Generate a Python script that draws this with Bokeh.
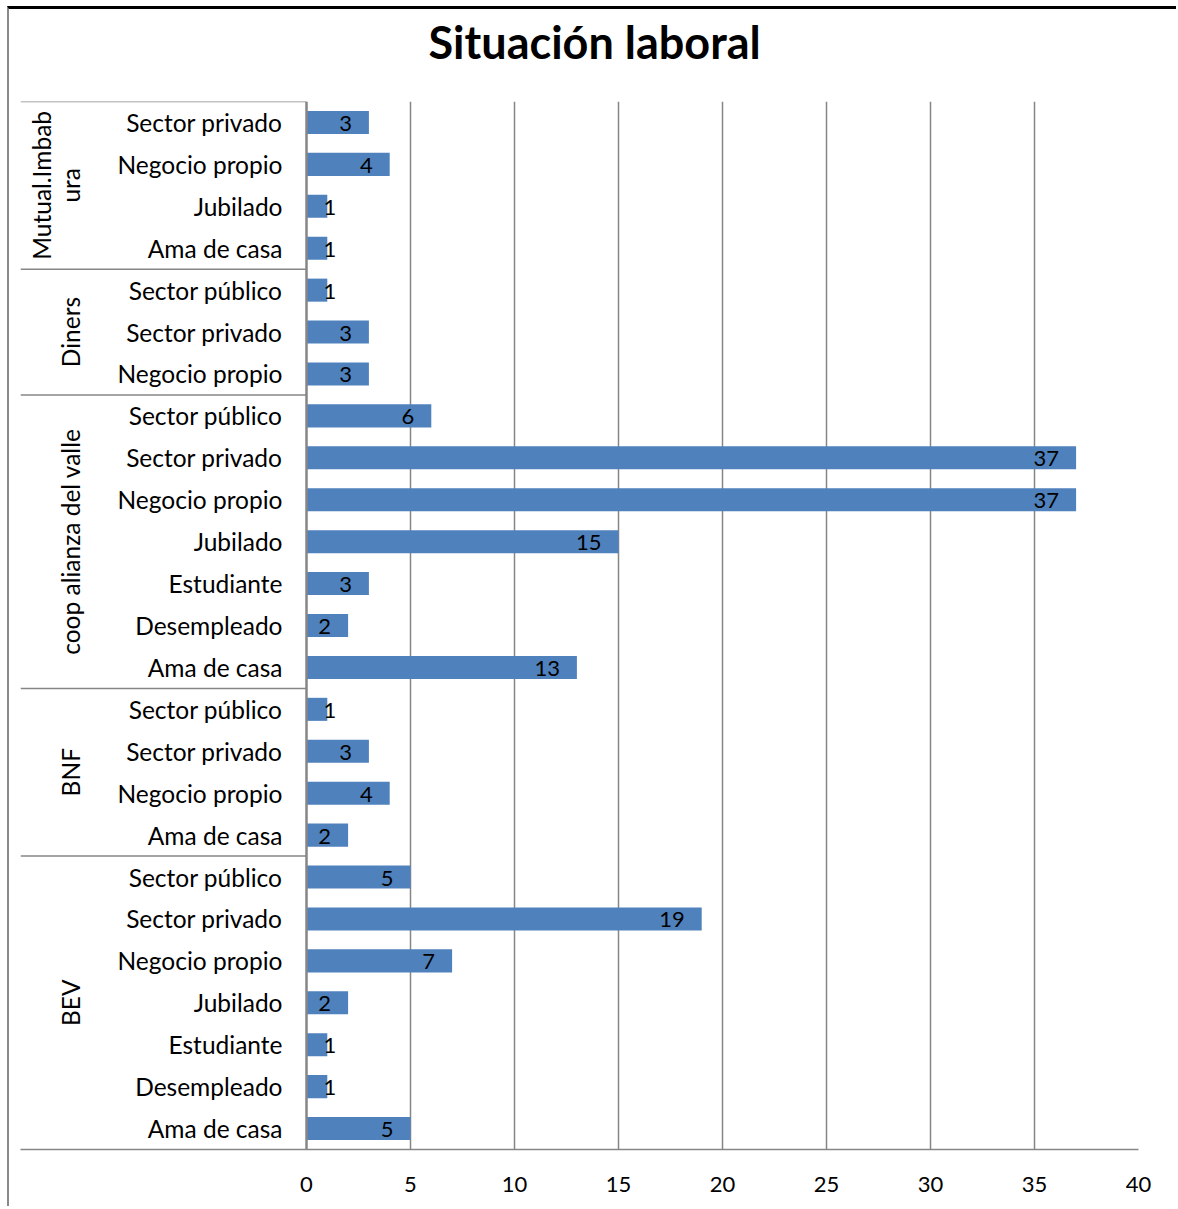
from math import pi
from bokeh.plotting import figure
from bokeh.models import FactorRange, Range1d, FixedTicker, Span, ColumnDataSource, Title
from bokeh.core.properties import value
from bokeh.embed import file_html
from bokeh.resources import INLINE

# ---------------- data (bottom to top, as in the source chart) ----------------
groups = ["BEV", "BNF", "coop alianza del valle", "Diners", "Mutual.Imbabura"]
group_labels = ["BEV", "BNF", "coop alianza del valle", "Diners", "Mutual.Imbab\nura"]

bev_cats = ["Ama de casa", "Desempleado", "Estudiante", "Jubilado", "Negocio propio", "Sector privado", "Sector público"]
bev_vals = [5, 1, 1, 2, 7, 19, 5]
bnf_cats = ["Ama de casa", "Negocio propio", "Sector privado", "Sector público"]
bnf_vals = [2, 4, 3, 1]
coop_cats = ["Ama de casa", "Desempleado", "Estudiante", "Jubilado", "Negocio propio", "Sector privado", "Sector público"]
coop_vals = [13, 2, 3, 15, 37, 37, 6]
diners_cats = ["Negocio propio", "Sector privado", "Sector público"]
diners_vals = [3, 3, 1]
mutual_cats = ["Ama de casa", "Jubilado", "Negocio propio", "Sector privado"]
mutual_vals = [1, 1, 4, 3]

x_ticks = [0, 5, 10, 15, 20, 25, 30, 35, 40]
title_text = "Situación laboral"

# ---------------- layout constants (window pixels) ----------------
WIN_W, WIN_H = 1178, 1209
MARGIN_L, MARGIN_T = 7, 6
BORDER_L, BORDER_T = 2, 3
ORG_X, ORG_Y = MARGIN_L + BORDER_L, MARGIN_T + BORDER_T
W, H = WIN_W - ORG_X, WIN_H - ORG_Y
FRAME_L, FRAME_R, FRAME_T, FRAME_B = 20, 1138, 100, 1149
ZERO_PX = 306
PX_PER_UNIT = (FRAME_R - ZERO_PX) / (x_ticks[-1] - x_ticks[0])
X_MIN = -(ZERO_PX - FRAME_L) / PX_PER_UNIT
FONT = "Lato"
GRAY = "#868686"
LABEL_SIZE = "24.5px"

cats_by_group = [bev_cats, bnf_cats, coop_cats, diners_cats, mutual_cats]
vals_by_group = [bev_vals, bnf_vals, coop_vals, diners_vals, mutual_vals]

factors, cats, vals = [], [], []
for g, cs, vs in zip(groups, cats_by_group, vals_by_group):
    for c, v in zip(cs, vs):
        factors.append((g, c))
        cats.append(c)
        vals.append(v)

# label placement rule (Excel "inside end", pushed right when it does not fit)
lab_x = [v if v >= 2 else 0 for v in vals]
lab_align = ["right" if v >= 2 else "left" for v in vals]
lab_off = [-17 if v >= 2 else 17 for v in vals]

src = ColumnDataSource(dict(factor=factors, cat=cats, val=vals,
                            lab=[str(v) for v in vals], lab_x=lab_x,
                            lab_align=lab_align, lab_off=lab_off))

p = figure(width=W, height=H, output_backend="svg", toolbar_location=None,
           x_range=Range1d(X_MIN, x_ticks[-1]),
           y_range=FactorRange(factors=factors, factor_padding=0, group_padding=0,
                               subgroup_padding=0, range_padding=0),
           y_axis_location=None, title=title_text,
           min_border_left=FRAME_L - ORG_X, min_border_right=WIN_W - FRAME_R,
           min_border_top=FRAME_T - ORG_Y, min_border_bottom=WIN_H - FRAME_B)
p.outline_line_color = None
p.background_fill_color = "white"
p.border_fill_color = "white"

p.title.align = "left"
p.title.offset = 428 - FRAME_L
p.title.vertical_align = "top"
p.title.text_font = FONT
p.title.text_font_style = "bold"
p.title.text_font_size = "45px"
p.title.text_color = "black"
p.title.standoff = 11

# blank spacer between the title and the plot area
p.add_layout(Title(text=" ", text_font_size="10px", standoff=12), "above")

# grid
p.ygrid.visible = False
p.xgrid.ticker = FixedTicker(ticks=x_ticks[1:])
p.xgrid.grid_line_color = GRAY
p.xgrid.grid_line_width = 1.5
p.add_layout(Span(location=0, dimension="height", line_color=GRAY, line_width=2.5))

# x axis
p.xaxis.ticker = FixedTicker(ticks=x_ticks)
p.xaxis.axis_line_color = GRAY
p.xaxis.axis_line_width = 1.5
p.xaxis.major_tick_line_color = None
p.xaxis.minor_tick_line_color = None
p.xaxis.major_label_text_font = FONT
p.xaxis.major_label_text_font_size = "22px"
p.xaxis.major_label_text_color = "black"
p.xaxis.major_label_standoff = 21

# bars
p.hbar(y="factor", left=0, right="val", height=0.55, source=src,
       fill_color="#4F81BD", line_color=None)

# data labels
p.text(x="lab_x", y="factor", text="lab", source=src, x_offset="lab_off", y_offset=1,
       text_align="lab_align", text_baseline="middle", text_font=value(FONT),
       text_font_size="22px", text_color="black")

# category labels
p.text(x=0, y="factor", text="cat", source=src, x_offset=-24,
       text_align="right", text_baseline="middle", text_font=value(FONT),
       text_font_size=LABEL_SIZE, text_color="black")

# group labels (rotated)
gx = (84 - ZERO_PX) / PX_PER_UNIT
p.text(x=[gx] * len(groups), y=groups, text=group_labels, angle=pi / 2,
       text_align="center", text_baseline="bottom", text_font=value(FONT),
       text_font_size=LABEL_SIZE, text_color="black", text_line_height=1.0)

# group separator lines in the label area
sep_y = [(g, cs[-1], 0.5) for g, cs in zip(groups, cats_by_group)]
p.segment(x0=[X_MIN] * len(sep_y), y0=sep_y, x1=[0] * len(sep_y), y1=sep_y,
          line_color=GRAY, line_width=1.5)

p.styles = {"margin-left": f"{MARGIN_L}px", "margin-top": f"{MARGIN_T}px",
            "border-top": f"{BORDER_T}px solid black",
            "border-left": f"{BORDER_L}px solid #8a8a8a"}

open("out.html", "w").write(file_html(p, INLINE))
